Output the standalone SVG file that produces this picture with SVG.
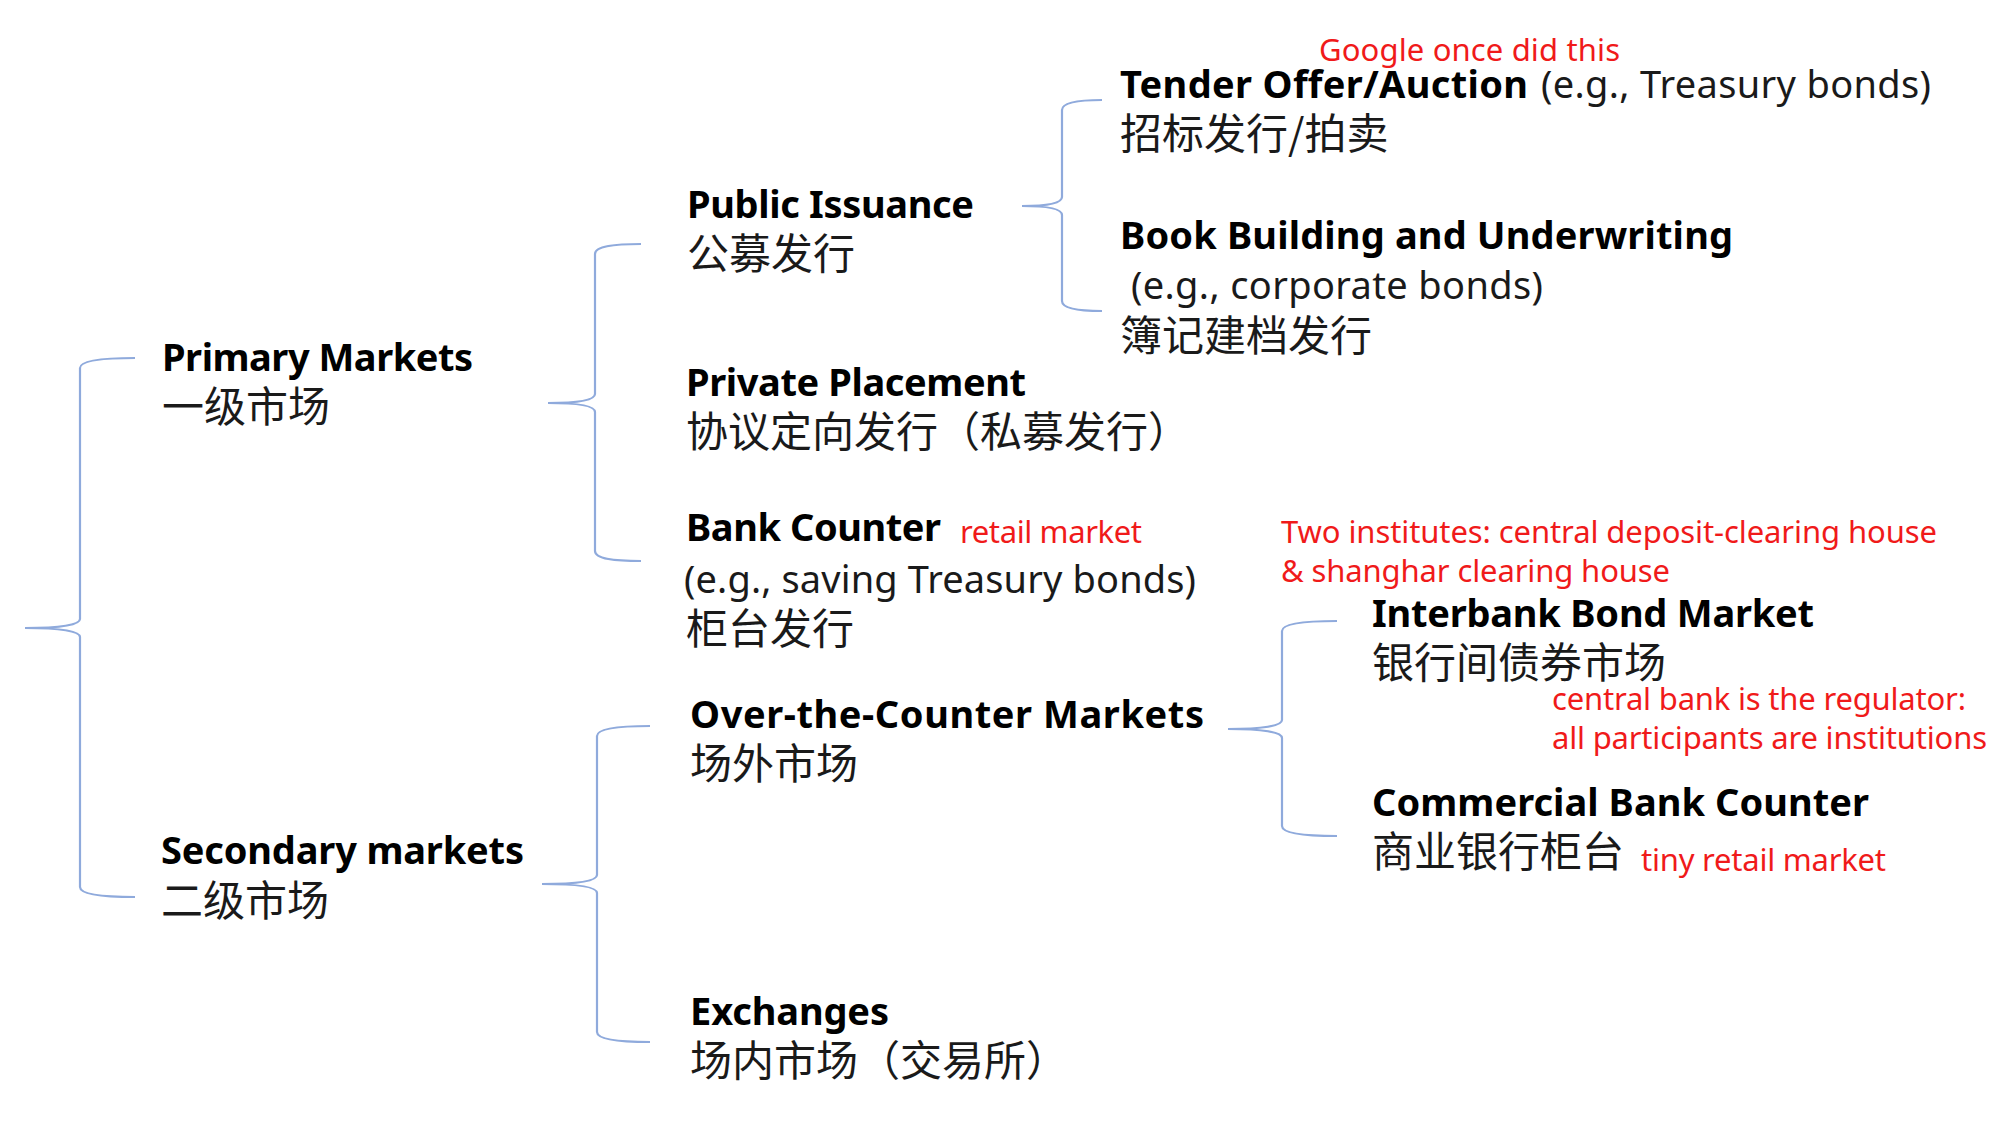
<svg xmlns="http://www.w3.org/2000/svg" width="2000" height="1134" viewBox="0 0 2000 1134">
<style>
.b{font-family:"Noto Sans","Noto Sans CJK SC",sans-serif;font-weight:bold;font-size:38px;fill:#000}
.r{font-family:"Noto Sans","Noto Sans CJK SC",sans-serif;font-size:38px;fill:#1a1a1a}
.c{font-family:"Noto Sans CJK SC",sans-serif;font-size:42px;fill:#1a1a1a}
.red{font-family:"Noto Sans","Noto Sans CJK SC",sans-serif;font-size:31px;fill:#f01a1a}
.brace{fill:none;stroke:#8faadc;stroke-width:2.2}
</style>
<rect width="2000" height="1134" fill="#fff"/>
<g id="connectors">
<path class="brace" d="M135,358 C105,358 80,360 80,368 L80,619 C80,625 60,628 25,628 C60,628 80,631 80,637 L80,887 C80,895 105,897 135,897"/>
<path class="brace" d="M641,244 C615,244 595,246 595,254 L595,394 C595,400 578,403 548,403 C578,403 595,406 595,412 L595,551 C595,559 615,561 641,561"/>
<path class="brace" d="M650,726 C622,726 597,728 597,736 L597,875 C597,881 578,884 542,884 C578,884 597,887 597,893 L597,1032 C597,1040 622,1042 650,1042"/>
<path class="brace" d="M1102,100 C1080,100 1062,102 1062,110 L1062,197 C1062,203 1048,206 1022,206 C1048,206 1062,209 1062,215 L1062,301 C1062,309 1080,311 1102,311"/>
<path class="brace" d="M1337,621 C1310,621 1282,623 1282,631 L1282,720 C1282,726 1262,729 1228,729 C1262,729 1282,732 1282,738 L1282,826 C1282,834 1310,836 1337,836"/>
</g>
<g id="primary">
<text class="b" x="162" y="371" textLength="311">Primary Markets</text>
<text class="c" x="162" y="422">一级市场</text>
</g>
<g id="secondary">
<text class="b" x="161" y="864" textLength="363">Secondary markets</text>
<text class="c" x="161" y="916">二级市场</text>
</g>
<g id="public">
<text class="b" x="687" y="218" textLength="287">Public Issuance</text>
<text class="c" x="687" y="269">公募发行</text>
</g>
<g id="private">
<text class="b" x="686" y="396" textLength="340">Private Placement</text>
<text class="c" x="686" y="447">协议定向发行（私募发行）</text>
</g>
<g id="bank-counter">
<text class="b" x="686" y="541" textLength="255">Bank Counter</text>
<text class="red" x="960" y="543" textLength="182">retail market</text>
<text class="r" x="684" y="593" textLength="512">(e.g., saving Treasury bonds)</text>
<text class="c" x="686" y="644">柜台发行</text>
</g>
<g id="otc">
<text class="b" x="690" y="728" textLength="514">Over-the-Counter Markets</text>
<text class="c" x="690" y="779">场外市场</text>
</g>
<g id="exchanges">
<text class="b" x="690" y="1025" textLength="199">Exchanges</text>
<text class="c" x="690" y="1076">场内市场（交易所）</text>
</g>
<g id="tender">
<text class="red" x="1319" y="61" textLength="301">Google once did this</text>
<text class="b" x="1120" y="98" textLength="408">Tender Offer/Auction</text>
<text class="r" x="1541" y="98" textLength="390">(e.g., Treasury bonds)</text>
<text class="c" x="1120" y="149">招标发行/拍卖</text>
</g>
<g id="book-building">
<text class="b" x="1120" y="249" textLength="613">Book Building and Underwriting</text>
<text class="r" x="1131" y="299" textLength="412">(e.g., corporate bonds)</text>
<text class="c" x="1120" y="351">簿记建档发行</text>
</g>
<g id="interbank">
<text class="red" x="1281" y="543" textLength="656">Two institutes: central deposit-clearing house</text>
<text class="red" x="1281" y="582" textLength="389">&amp; shanghar clearing house</text>
<text class="b" x="1372" y="627" textLength="442">Interbank Bond Market</text>
<text class="c" x="1372" y="678">银行间债券市场</text>
<text class="red" x="1552" y="710" textLength="414">central bank is the regulator:</text>
<text class="red" x="1552" y="749" textLength="435">all participants are institutions</text>
</g>
<g id="commercial">
<text class="b" x="1372" y="816" textLength="497">Commercial Bank Counter</text>
<text class="c" x="1372" y="867">商业银行柜台</text>
<text class="red" x="1641" y="871" textLength="245">tiny retail market</text>
</g>
</svg>
